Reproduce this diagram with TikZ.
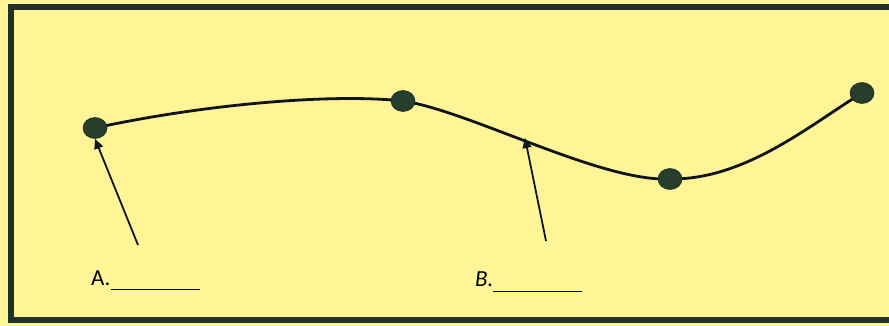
\documentclass[tikz,border=0pt]{standalone}
\usepackage{fontspec}
\setmainfont{Carlito}
\usetikzlibrary{arrows.meta}
\usetikzlibrary{shapes.geometric}
\definecolor{bgyellow}{RGB}{255,245,150}
\definecolor{framegreen}{RGB}{30,50,38}
\definecolor{dotgreen}{RGB}{40,62,45}
\definecolor{curvecol}{RGB}{15,20,30}
\tikzset{
  dot/.style={ellipse, fill=dotgreen, draw=dotgreen!70!black, line width=0.6pt, minimum width=24pt, minimum height=21pt, inner sep=0pt},
  pointer/.style={draw=curvecol, line width=1.8pt, -{Triangle[length=10pt,width=9pt]}},
  label/.style={font=\fontsize{23}{25}\selectfont, text=black, anchor=base west, inner sep=0pt},
  blank/.style={draw=black, line width=1pt}
}
\begin{document}
\begin{tikzpicture}[x=1pt,y=-1pt]
\useasboundingbox (0,0) rectangle (889,326);
\fill[bgyellow] (0,0) rectangle (889,326);
% frame (open on the right)
\draw[framegreen, line width=6pt] (889,7.5) -- (10.5,7.5) -- (10.5,319.5) -- (889,319.5);
% points
\coordinate (p1) at (95,128);
\coordinate (p2) at (403,101);
\coordinate (p3) at (670,179);
\coordinate (p4) at (862,93);
% curve
\draw[curvecol, line width=2.8pt]
  (p1) .. controls (200,105) and (330,93) .. (p2)
       .. controls (470,111) and (600,182) .. (p3)
       .. controls (745,180) and (810,125) .. (p4);
% dots
\node[dot] (d1) at (p1) {};
\node[dot] (d2) at (p2) {};
\node[dot] (d3) at (p3) {};
\node[dot] (d4) at (p4) {};
% arrows
\coordinate (ta) at (138,245);
\coordinate (tb) at (546,241);
\coordinate (hb) at (525,138);
\draw[pointer] (ta) -- (d1.south);
\draw[pointer] (tb) -- (hb);
% labels
\node[label] (la) at (91,285) {A.};
\draw[blank] (111,289) -- (200,289);
\node[label] (lb) at (475,286) {\itshape B.};
\draw[blank] (493,291) -- (582,291);
\end{tikzpicture}
\end{document}
